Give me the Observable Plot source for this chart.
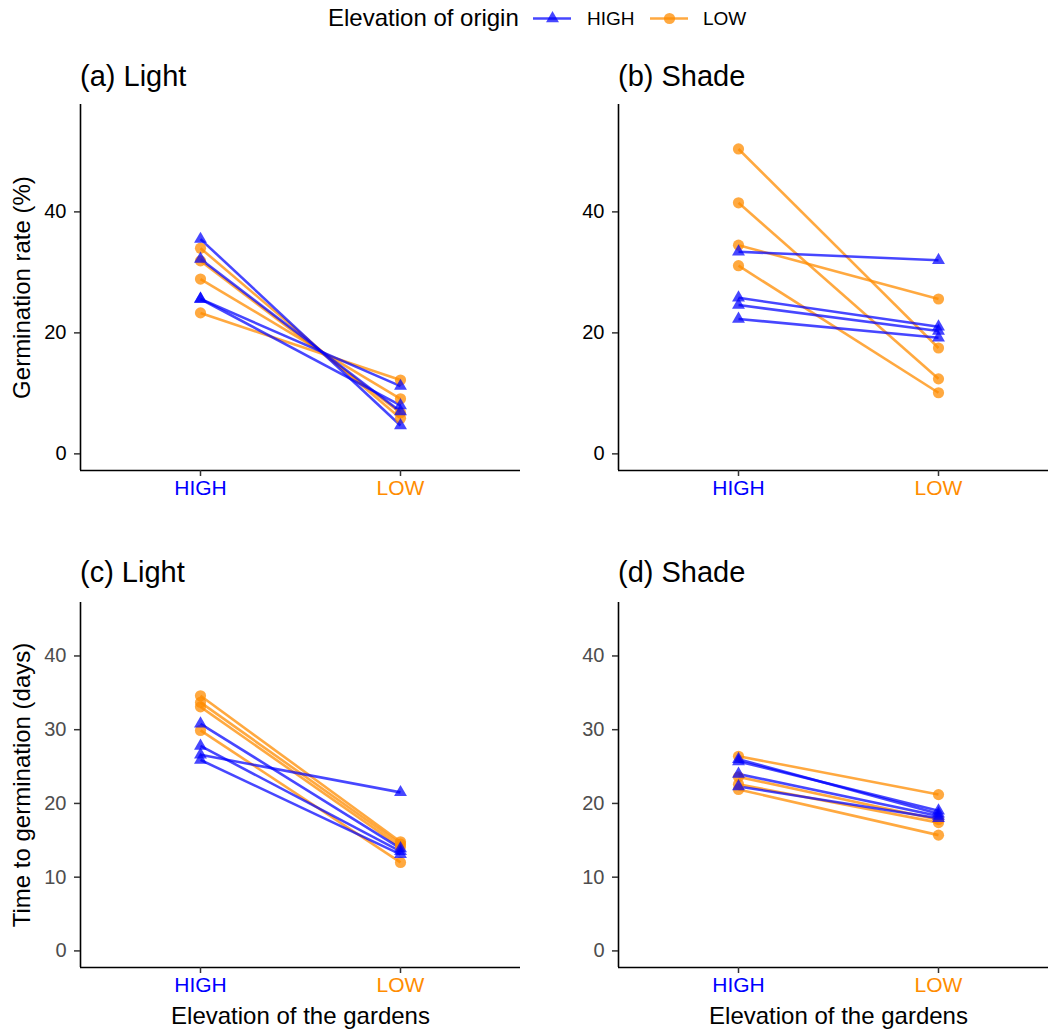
<!DOCTYPE html>
<html><head><meta charset="utf-8">
<script src="https://cdn.jsdelivr.net/npm/d3@7"></script>
<script src="https://cdn.jsdelivr.net/npm/@observablehq/plot@0.6"></script>
<style>
body{margin:0;background:#fff;font-family:"Liberation Sans",Arial,sans-serif;}
#root{position:relative;width:1048px;height:1034px;overflow:hidden;background:#fff}
.abs{position:absolute;white-space:nowrap}
.ptitle{font-size:29px;line-height:29px;color:#000}
</style></head><body><div id="root"></div>
<script>
// ---- data ----
const gardens = ["HIGH", "LOW"];
const origins = ["HIGH", "LOW"];
const panelTitles = ["(a) Light", "(b) Shade", "(c) Light", "(d) Shade"];
const yTitles = ["Germination rate (%)", "Time to germination (days)"];
const xTitle = "Elevation of the gardens";
const legendTitle = "Elevation of origin";
const topTicks = [0, 20, 40];
const bottomTicks = [0, 10, 20, 30, 40];

// (a) Light - germination rate
const aHighOriginAtHigh = [35.5, 32.2, 25.6, 25.6];
const aHighOriginAtLow  = [4.7, 7.0, 11.2, 8.0];
const aLowOriginAtHigh  = [34.0, 31.9, 28.9, 23.3];
const aLowOriginAtLow   = [5.9, 6.8, 9.1, 12.2];
// (b) Shade - germination rate
const bHighOriginAtHigh = [33.4, 25.8, 24.6, 22.3];
const bHighOriginAtLow  = [32.0, 21.0, 20.3, 19.2];
const bLowOriginAtHigh  = [50.4, 41.5, 34.5, 31.1];
const bLowOriginAtLow   = [17.5, 12.4, 25.6, 10.1];
// (c) Light - time to germination
const cHighOriginAtHigh = [30.8, 27.8, 26.6, 25.9];
const cHighOriginAtLow  = [13.9, 13.5, 21.5, 13.1];
const cLowOriginAtHigh  = [34.6, 33.7, 33.1, 29.9];
const cLowOriginAtLow   = [14.8, 14.5, 14.1, 12.0];
// (d) Shade - time to germination
const dHighOriginAtHigh = [26.0, 25.7, 24.0, 22.3];
const dHighOriginAtLow  = [18.6, 19.0, 18.3, 18.0];
const dLowOriginAtHigh  = [26.4, 23.6, 22.6, 21.9];
const dLowOriginAtLow   = [21.2, 17.8, 17.4, 15.7];

const colHigh = "#0000FF", colLow = "#FF8C00";
const FONT = "Liberation Sans, Arial, sans-serif";

function rows(hh, hl, lh, ll) {
  const out = [];
  hh.forEach((v, i) => out.push({origin: "HIGH", high: v, low: hl[i]}));
  lh.forEach((v, i) => out.push({origin: "LOW", high: v, low: ll[i]}));
  return out;
}
const panelData = [
  rows(aHighOriginAtHigh, aHighOriginAtLow, aLowOriginAtHigh, aLowOriginAtLow),
  rows(bHighOriginAtHigh, bHighOriginAtLow, bLowOriginAtHigh, bLowOriginAtLow),
  rows(cHighOriginAtHigh, cHighOriginAtLow, cLowOriginAtHigh, cLowOriginAtLow),
  rows(dHighOriginAtHigh, dHighOriginAtLow, dLowOriginAtHigh, dLowOriginAtLow)
];

const root = document.getElementById("root");

function makePanel(idx) {
  const row = idx < 2 ? 0 : 1, col = idx % 2;
  const data = panelData[idx];
  const yDomain = row === 0 ? [-2.75, 57.75] : [-2.25, 47.25];
  const ticks = row === 0 ? topTicks : bottomTicks;
  const tickFill = row === 0 ? "#000" : "#4d4d4d";
  const top = row === 0 ? 95 : 592;
  const height = row === 0 ? 415 : 442;
  const mT = row === 0 ? 9 : 10;
  const mB = row === 0 ? 40 : 67;
  const mL = col === 0 ? 80 : 94;
  const mR = col === 0 ? 4 : 0;
  const width = col === 0 ? 524 : 534;
  const hi = data.filter(d => d.origin === "HIGH");
  const lo = data.filter(d => d.origin === "LOW");
  const marks = [
    Plot.ruleX([0.4], {stroke: "#000", strokeWidth: 1.6}),
    Plot.ruleY([yDomain[0]], {stroke: "#000", strokeWidth: 1.6}),
    Plot.axisY({ticks, tickSize: 6, tickPadding: 8, fill: tickFill, stroke: "#333", strokeWidth: 1.5, fontSize: 20, label: null}),
    Plot.axisX({ticks: [1, 2], tickSize: 6, tickFormat: () => "", stroke: "#333", strokeWidth: 1.5, label: null}),
    Plot.text(gardens, {x: (d, i) => i + 1, text: d => d, frameAnchor: "bottom", dy: 24, fontSize: 21,
      fill: d => d === "HIGH" ? colHigh : colLow}),
    Plot.link(lo, {x1: () => 1, x2: () => 2, y1: "high", y2: "low", stroke: colLow, strokeOpacity: 0.75, strokeWidth: 2.6}),
    Plot.link(hi, {x1: () => 1, x2: () => 2, y1: "high", y2: "low", stroke: colHigh, strokeOpacity: 0.72, strokeWidth: 2.6}),
    Plot.dot(lo, {x: () => 1, y: "high", r: 5.6, fill: colLow, fillOpacity: 0.75, stroke: "none"}),
    Plot.dot(lo, {x: () => 2, y: "low", r: 5.6, fill: colLow, fillOpacity: 0.75, stroke: "none"}),
    Plot.dot(hi, {x: () => 1, y: "high", r: 4.8, symbol: "triangle", fill: colHigh, fillOpacity: 0.72, stroke: "none"}),
    Plot.dot(hi, {x: () => 2, y: "low", r: 4.8, symbol: "triangle", fill: colHigh, fillOpacity: 0.72, stroke: "none"})
  ];
  if (col === 0) {
    marks.push(Plot.text([yTitles[row]], {text: d => d, frameAnchor: "left", textAnchor: "middle", rotate: -90, dx: -58, fontSize: 24, fill: "#000"}));
  }
  if (row === 1) {
    marks.push(Plot.text([xTitle], {text: d => d, frameAnchor: "bottom", textAnchor: "middle", dy: 56, fontSize: 24, fill: "#000"}));
  }
  const svg = Plot.plot({
    width, height,
    marginLeft: mL, marginRight: mR, marginTop: mT, marginBottom: mB,
    style: {fontFamily: FONT, fontSize: "20px", background: "transparent", overflow: "visible", color: "#000"},
    x: {domain: [0.4, 2.6]},
    y: {domain: yDomain},
    marks
  });
  svg.style.position = "absolute";
  svg.style.left = (col * 524) + "px";
  svg.style.top = top + "px";
  root.appendChild(svg);

  const t = document.createElement("div");
  t.className = "abs ptitle";
  t.textContent = panelTitles[idx];
  t.style.left = (col === 0 ? 80 : 618) + "px";
  t.style.top = (row === 0 ? 62 : 558) + "px";
  root.appendChild(t);
}
[0, 1, 2, 3].forEach(makePanel);

// ---- legend ----
function addText(txt, left, top, size) {
  const d = document.createElement("div");
  d.className = "abs";
  d.textContent = txt;
  d.style.left = left + "px"; d.style.top = top + "px";
  d.style.fontSize = size + "px"; d.style.lineHeight = size + "px";
  root.appendChild(d);
}
addText(legendTitle, 328, 6, 24);
function key(left, color, symbol, r, op) {
  const s = Plot.plot({
    width: 38, height: 20, margin: 0,
    x: {domain: [0, 1], axis: null}, y: {domain: [0, 1], axis: null},
    style: {background: "transparent", overflow: "visible"},
    marks: [
      Plot.ruleY([0.5], {stroke: color, strokeOpacity: op, strokeWidth: 2.6}),
      Plot.dot([0.5], {x: d => d, y: () => 0.5, r, symbol, fill: color, fillOpacity: op, stroke: "none"})
    ]
  });
  s.style.position = "absolute"; s.style.left = left + "px"; s.style.top = "8px";
  root.appendChild(s);
}
key(533, colHigh, "triangle", 4.8, 0.72);
addText(origins[0], 587, 9, 19);
key(650, colLow, "circle", 5.6, 0.75);
addText(origins[1], 703, 9, 19);
</script></body></html>
